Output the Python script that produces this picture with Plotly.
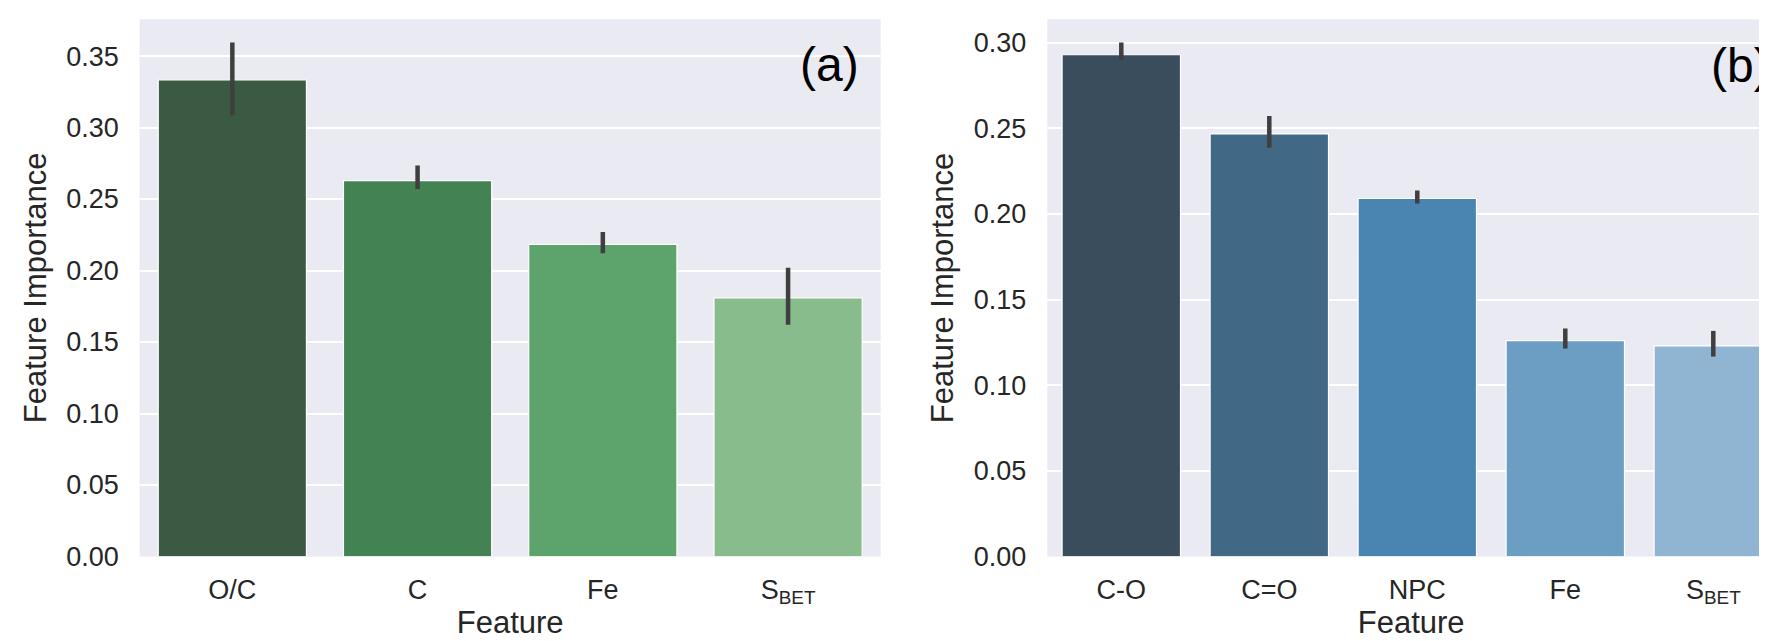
import plotly.graph_objects as go

# Panel (a)
feat_a = ["O/C", "C", "Fe", "S<sub>BET</sub>"]
imp_a = [0.3334, 0.2629, 0.2183, 0.1809]
err_lo_a = [0.3086, 0.2571, 0.2120, 0.1620]
err_hi_a = [0.3594, 0.2734, 0.2269, 0.2020]
col_a = ["#3b5a43", "#428253", "#5ca36c", "#88bc8c"]

# Panel (b)
feat_b = ["C-O", "C=O", "NPC", "Fe", "S<sub>BET</sub>"]
imp_b = [0.2929, 0.2467, 0.2090, 0.1260, 0.1229]
err_lo_b = [0.2898, 0.2386, 0.2060, 0.1214, 0.1167]
err_hi_b = [0.3000, 0.2571, 0.2136, 0.1331, 0.1317]
col_b = ["#3a4d5d", "#416884", "#4a84b0", "#6b9ec2", "#8fb5d2"]

yticks_a = [0.0, 0.05, 0.10, 0.15, 0.20, 0.25, 0.30, 0.35]
yticks_b = [0.0, 0.05, 0.10, 0.15, 0.20, 0.25, 0.30]

FONT = "Liberation Sans, Arial, sans-serif"
TXT = "#262626"
ERR = "#3f3f3f"

fig = go.Figure()

def add_panel(feats, vals, lo, hi, cols, xa, ya):
    fig.add_trace(go.Bar(
        x=list(range(len(feats))), y=vals, width=0.8,
        marker=dict(color=cols, line=dict(color="white", width=1.2)),
        error_y=dict(type="data", symmetric=False,
                     array=[h - v for h, v in zip(hi, vals)],
                     arrayminus=[v - l for l, v in zip(lo, vals)],
                     color=ERR, thickness=4.5, width=0),
        xaxis=xa, yaxis=ya, showlegend=False, hoverinfo="y"))

add_panel(feat_a, imp_a, err_lo_a, err_hi_a, col_a, "x", "y")
add_panel(feat_b, imp_b, err_lo_b, err_hi_b, col_b, "x2", "y2")

ydom = [1 - 548.5 / 641, 1 - 11.3 / 641]

common_y = dict(showgrid=True, gridcolor="white", gridwidth=2, zeroline=False,
                showline=False, ticks="", tickfont=dict(size=27, color=TXT, family=FONT),
                ticklabelstandoff=20, tickformat=".2f",
                title=dict(text="Feature Importance", font=dict(size=31, color=TXT, family=FONT),
                           standoff=10))
common_x = dict(showgrid=False, zeroline=False, showline=False, ticks="",
                tickfont=dict(size=27, color=TXT, family=FONT), ticklabelstandoff=14,
                title=dict(text="Feature", font=dict(size=31, color=TXT, family=FONT),
                           standoff=4))

fig.update_layout(
    width=1767, height=641,
    margin=dict(l=0, r=0, t=0, b=0, autoexpand=False),
    paper_bgcolor="white", plot_bgcolor="#eaeaf2",
    bargap=0.2,
    xaxis=dict(domain=[131.7 / 1767, 872.7 / 1767], range=[-0.5, 3.5],
               tickvals=list(range(len(feat_a))), ticktext=feat_a, anchor="y", **common_x),
    yaxis=dict(domain=ydom, range=[0, 0.3757], tickvals=yticks_a, anchor="x", **common_y),
    xaxis2=dict(domain=[1039.3 / 1767, 1.0], range=[-0.5, 4.417],
                tickvals=list(range(len(feat_b))), ticktext=feat_b, anchor="y2", **common_x),
    yaxis2=dict(domain=ydom, range=[0, 0.3136], tickvals=yticks_b, anchor="x2", **common_y),
    annotations=[
        dict(text="(a)", xref="paper", yref="paper", x=853 / 1767, y=1 - 56 / 641,
             xanchor="right", yanchor="middle", showarrow=False,
             font=dict(size=48, color="black", family=FONT)),
        dict(text="(b)", xref="paper", yref="paper", x=1764 / 1767, y=1 - 57 / 641,
             xanchor="right", yanchor="middle", showarrow=False,
             font=dict(size=48, color="black", family=FONT)),
    ],
)

fig.write_html("out.html")
